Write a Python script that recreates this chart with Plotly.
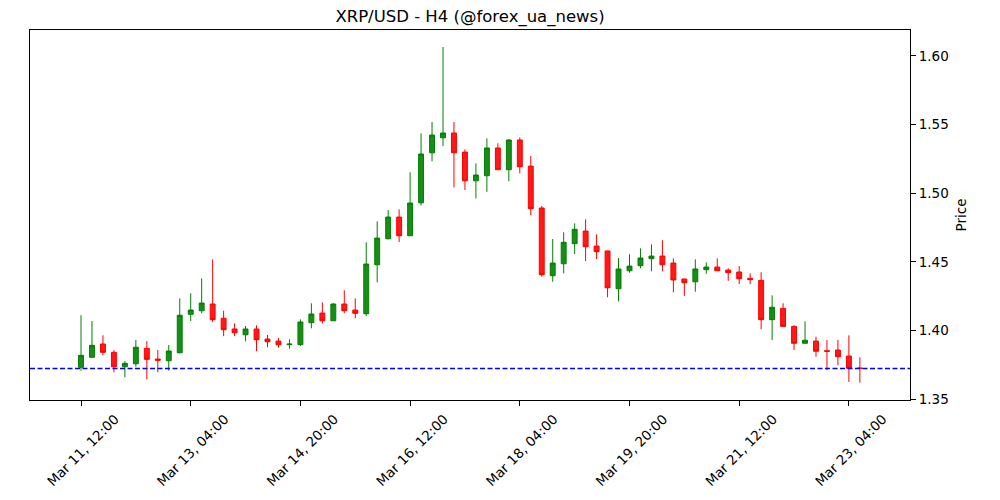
import plotly.graph_objects as go

# ---- data (4h candles, Mar 11 12:00 -> Mar 23 08:00) ----
opens = [1.3733, 1.3806, 1.3903, 1.3842, 1.3737, 1.3759, 1.3871, 1.3793, 1.3781, 1.3839,
         1.4119, 1.4145, 1.4194, 1.4090, 1.4012, 1.3970, 1.4012, 1.3939, 1.3924, 1.3898,
         1.3898, 1.4058, 1.4128, 1.4072, 1.4194, 1.4150, 1.4123, 1.4480, 1.4669, 1.4827,
         1.4691, 1.4931, 1.5295, 1.5404, 1.5439, 1.5300, 1.5091, 1.5128, 1.5330, 1.5172,
         1.5388, 1.5198, 1.4893, 1.4400, 1.4487, 1.4633, 1.4725, 1.4616, 1.4580, 1.4305,
         1.4436, 1.4473, 1.4524, 1.4543, 1.4492, 1.4376, 1.4356, 1.4444, 1.4463, 1.4441,
         1.4427, 1.4381, 1.4366, 1.4080, 1.4162, 1.4031, 1.3908, 1.3924, 1.3854, 1.3859,
         1.3815, 1.3728]
highs = [1.4112, 1.4070, 1.3966, 1.3859, 1.3779, 1.3932, 1.3924, 1.3859, 1.3895, 1.4235,
         1.4272, 1.4381, 1.4519, 1.4145, 1.4053, 1.4034, 1.4039, 1.3968, 1.3946, 1.3937,
         1.4082, 1.4199, 1.4206, 1.4199, 1.4294, 1.4235, 1.4643, 1.4796, 1.4878, 1.4883,
         1.5153, 1.5436, 1.5519, 1.6065, 1.5519, 1.5320, 1.5218, 1.5400, 1.5364, 1.5395,
         1.5407, 1.5271, 1.4907, 1.4667, 1.4716, 1.4781, 1.4810, 1.4701, 1.4582, 1.4529,
         1.4556, 1.4599, 1.4628, 1.4658, 1.4526, 1.4378, 1.4519, 1.4497, 1.4526, 1.4454,
         1.4470, 1.4417, 1.4425, 1.4257, 1.4199, 1.4039, 1.4068, 1.3956, 1.3932, 1.3932,
         1.3966, 1.3806]
lows = [1.3708, 1.3803, 1.3820, 1.3697, 1.3660, 1.3737, 1.3646, 1.3697, 1.3708, 1.3835,
        1.4070, 1.4126, 1.4063, 1.3960, 1.3960, 1.3922, 1.3850, 1.3879, 1.3876, 1.3868,
        1.3888, 1.4017, 1.4053, 1.4072, 1.4126, 1.4090, 1.4106, 1.4352, 1.4665, 1.4645,
        1.4690, 1.4912, 1.5233, 1.5344, 1.5043, 1.5024, 1.4963, 1.5011, 1.5170, 1.5087,
        1.5145, 1.4840, 1.4393, 1.4356, 1.4417, 1.4558, 1.4507, 1.4521, 1.4243, 1.4213,
        1.4422, 1.4454, 1.4432, 1.4432, 1.4279, 1.4252, 1.4283, 1.4414, 1.4434, 1.4363,
        1.4339, 1.4339, 1.4010, 1.3932, 1.4029, 1.3859, 1.3906, 1.3810, 1.3713, 1.3748,
        1.3626, 1.3621]
closes = [1.3820, 1.3893, 1.3842, 1.3737, 1.3762, 1.3879, 1.3791, 1.3784, 1.3852, 1.4112,
          1.4150, 1.4201, 1.4080, 1.4007, 1.3985, 1.4012, 1.3934, 1.3919, 1.3897, 1.3902,
          1.4063, 1.4121, 1.4072, 1.4194, 1.4145, 1.4126, 1.4485, 1.4674, 1.4827, 1.4691,
          1.4929, 1.5286, 1.5424, 1.5439, 1.5295, 1.5091, 1.5133, 1.5330, 1.5172, 1.5388,
          1.5193, 1.4888, 1.4407, 1.4492, 1.4643, 1.4738, 1.4611, 1.4575, 1.4312, 1.4449,
          1.4470, 1.4529, 1.4543, 1.4480, 1.4369, 1.4349, 1.4449, 1.4463, 1.4436, 1.4422,
          1.4378, 1.4371, 1.4080, 1.4170, 1.4031, 1.3908, 1.3930, 1.3850, 1.3850, 1.3810,
          1.3726, 1.3725]

tick_positions = [0, 10, 20, 30, 40, 50, 60, 70]
tick_labels = ["Mar 11, 12:00", "Mar 13, 04:00", "Mar 14, 20:00", "Mar 16, 12:00",
               "Mar 18, 04:00", "Mar 19, 20:00", "Mar 21, 12:00", "Mar 23, 04:00"]
y_ticks = [1.35, 1.40, 1.45, 1.50, 1.55, 1.60]
current_price = closes[-1]

x = list(range(len(opens)))

FONT = "DejaVu Sans"

fig = go.Figure()
fig.add_trace(go.Candlestick(
    x=x, open=opens, high=highs, low=lows, close=closes,
    increasing=dict(line=dict(color="#008000", width=1), fillcolor="rgb(25,141,25)"),
    decreasing=dict(line=dict(color="#ff0000", width=1), fillcolor="rgb(255,25,25)"),
    whiskerwidth=0,
    showlegend=False,
))

fig.add_shape(type="line", xref="paper", x0=0, x1=1, yref="y",
              y0=current_price, y1=current_price,
              line=dict(color="#0000ff", width=1.5, dash="5px,2.5px"))

fig.update_layout(
    width=1000, height=500,
    margin=dict(l=30, r=90, t=30, b=100),
    paper_bgcolor="white", plot_bgcolor="white",
    font=dict(family=FONT, size=14, color="black"),
    title=dict(text="XRP/USD - H4 (@forex_ua_news)", x=0.5, xref="paper",
               y=1 - 16 / 500, yref="container", yanchor="middle", xanchor="center",
               font=dict(family=FONT, size=16.5, color="black")),
    boxgap=0.36,
    xaxis=dict(
        range=[-4.65, 75.57], rangeslider=dict(visible=False),
        tickmode="array", tickvals=tick_positions, ticktext=tick_labels,
        tickangle=-45, ticklabelshift=34,
        showgrid=False, zeroline=False,
        showline=True, linecolor="black", linewidth=1, mirror=True,
        ticks="outside", ticklen=5, tickcolor="black",
        tickfont=dict(family=FONT, size=13.5, color="black"),
    ),
    yaxis=dict(
        side="right", range=[1.3495, 1.6189],
        tickmode="array", tickvals=y_ticks, tickformat=".2f",
        showgrid=False, zeroline=False,
        showline=True, linecolor="black", linewidth=1, mirror=True,
        ticks="outside", ticklen=5, tickcolor="black",
        tickfont=dict(family=FONT, size=13.5, color="black"),
        title=dict(text="Price", standoff=8, font=dict(family=FONT, size=13.5, color="black")),
    ),
)

fig.write_html("out.html")
